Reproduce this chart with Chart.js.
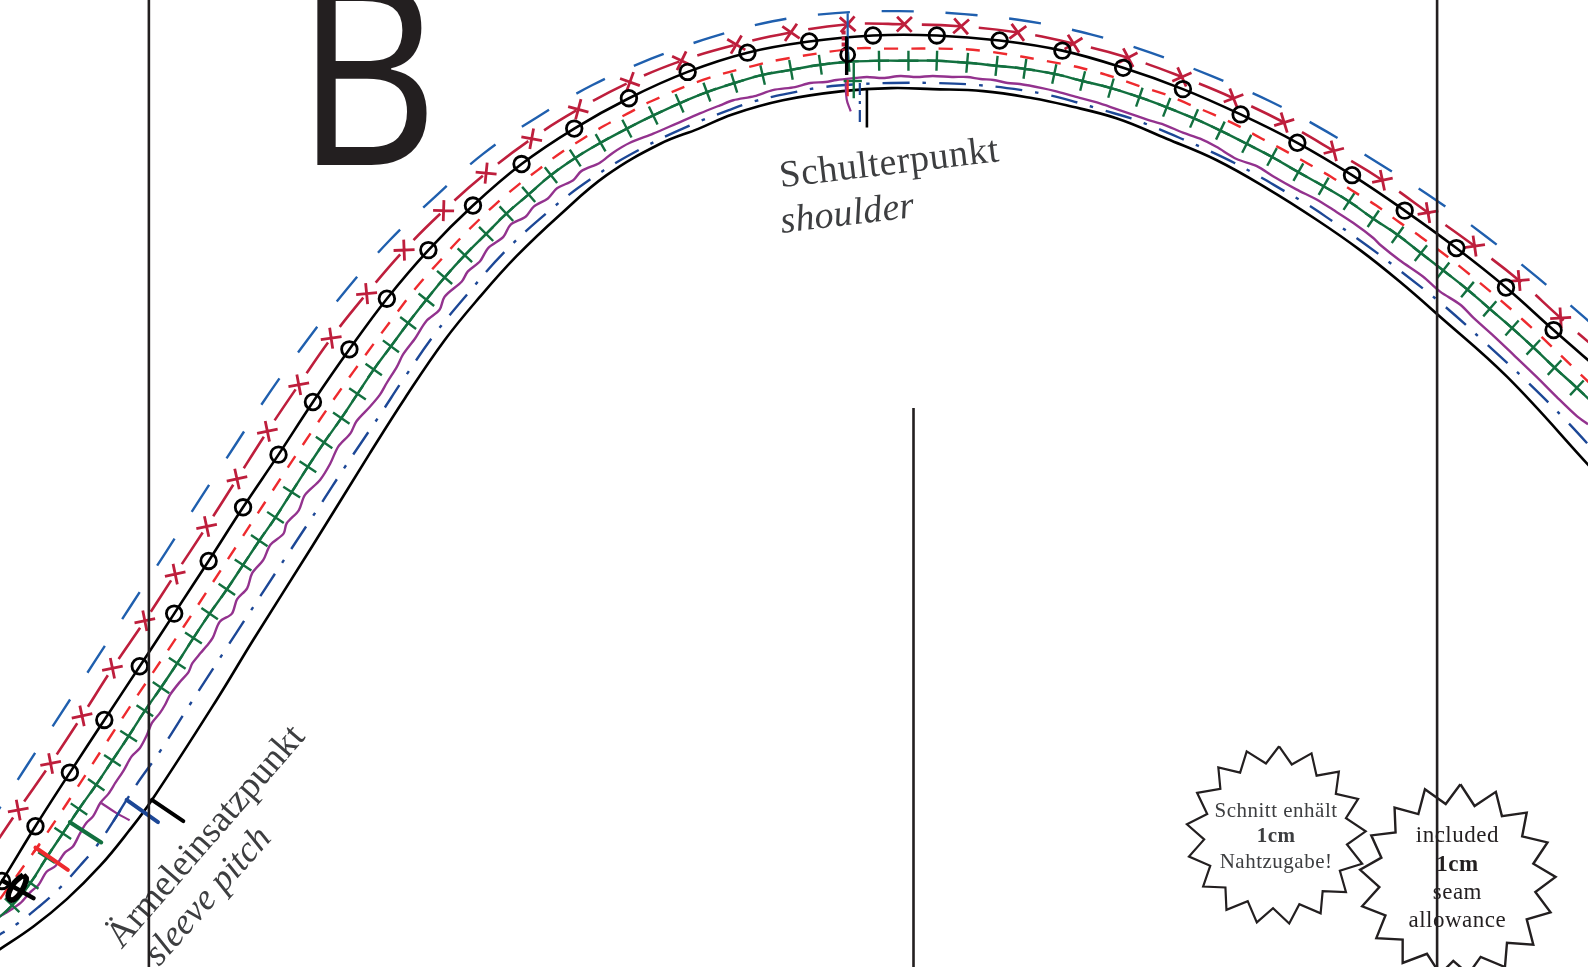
<!DOCTYPE html>
<html>
<head>
<meta charset="utf-8">
<title>Schnittmuster Armkugel</title>
<script src="https://cdn.jsdelivr.net/npm/chart.js@4"></script>
<style>
  html, body { margin: 0; padding: 0; background: #fff; overflow: hidden; }
  canvas { display: block; }
</style>
</head>
<body>
<canvas id="pattern" width="1588" height="967"></canvas>
<script>
const outerBlue = [[-8,810],[26,757],[60,705],[95,651],[130,597],[164,545],[198,492],[232,440],[266,388],[304,335],[343,285],[385,237],[430,194],[477,152],[530,116],[585,84],[643,58],[702,37],[763,21],[825,13],[888,11],[952,14],[1015,21],[1077,34],[1136,52],[1196,75],[1254,100],[1310,130],[1364,163],[1417,197],[1468,234],[1518,274],[1565,314],[1610,355]];
const crossedRed = [[-13,846],[18,800],[50,754],[81,707],[111,660],[143,613],[173,567],[204,520],[234,473],[264,426],[295,380],[327,334],[362,290],[399,247],[438,208],[480,171],[525,137],[571,108],[622,81],[673,60],[727,44],[781,32],[837,24],[893,24],[949,26],[1005,32],[1060,43],[1114,57],[1167,76],[1218,97],[1268,121],[1317,149],[1365,178],[1410,210],[1456,243],[1500,277],[1541,314],[1585,352]];
const circledBlack = [[-30,920],[2,870],[35,816],[69,763],[103,711],[138,658],[172,606],[206,554],[240,501],[275,449],[309,397],[345,345],[382,295],[423,247],[467,203],[515,162],[567,127],[621,97],[679,71],[738,52],[799,41],[862,35],[925,35],[987,40],[1049,50],[1109,67],[1168,88],[1225,113],[1281,141],[1335,173],[1387,208],[1438,245],[1487,284],[1534,326],[1580,366]];
const dashedRed = [[0,888],[51,816],[123,706],[182,618],[235,537],[263,494],[308,426],[349,367],[400,298],[416,278],[434,258],[452,238],[471,219],[490,201],[510,184],[531,168],[552,152],[574,138],[597,124],[620,112],[643,100],[694,79],[744,65],[770,59],[844,48],[874,48],[900,48],[928,48],[969,50],[1048,63],[1075,69],[1099,76],[1125,85],[1150,93],[1174,103],[1198,113],[1222,124],[1246,137],[1269,149],[1292,162],[1315,175],[1338,190],[1359,203],[1381,219],[1403,234],[1445,266],[1505,317],[1563,372],[1590,398]];
const tickedGreen = [[-8,912],[12,894],[30,872],[46,847],[62,823],[78,799],[95,775],[111,751],[127,727],[143,702],[159,679],[175,655],[191,630],[207,606],[224,582],[240,558],[256,534],[272,511],[288,486],[304,461],[320,437],[337,413],[353,389],[369,365],[386,342],[403,319],[421,296],[439,274],[459,252],[480,231],[500,211],[522,192],[544,173],[568,156],[593,141],[619,127],[645,114],[671,102],[698,91],[725,82],[753,74],[781,69],[810,64],[838,61],[868,60],[897,60],[925,60],[955,62],[984,65],[1012,68],[1041,73],[1069,80],[1097,87],[1125,96],[1152,106],[1179,117],[1205,129],[1231,142],[1256,155],[1282,170],[1307,184],[1332,199],[1356,216],[1380,232],[1403,250],[1425,267],[1449,286],[1471,305],[1493,324],[1514,343],[1535,363],[1557,383],[1580,405]];
const wavyPurple = [[0,905],[10,899],[20,892],[30,881],[38,874],[46,861],[55,855],[64,842],[72,836],[79,823],[85,813],[92,806],[99,793],[107,784],[114,773],[122,761],[130,747],[138,739],[145,726],[150,714],[158,704],[163,696],[168,686],[178,673],[186,664],[190,655],[198,645],[204,638],[210,630],[217,614],[229,606],[234,592],[244,581],[249,566],[260,553],[267,538],[280,527],[283,517],[295,504],[301,489],[316,474],[326,458],[334,441],[346,428],[352,416],[365,402],[375,390],[382,378],[392,362],[398,350],[410,334],[421,317],[434,306],[439,293],[456,278],[462,268],[474,258],[482,245],[497,234],[504,222],[519,214],[527,204],[541,196],[550,186],[566,178],[574,169],[592,161],[605,151],[622,141],[645,132],[668,122],[691,112],[711,104],[724,99],[745,95],[763,89],[785,86],[800,82],[815,81],[826,79],[845,77],[856,76],[872,77],[889,75],[905,76],[921,75],[940,76],[955,76],[968,78],[981,79],[995,82],[1007,83],[1029,87],[1042,90],[1060,95],[1086,102],[1109,110],[1132,118],[1149,123],[1168,131],[1185,137],[1201,145],[1221,157],[1241,164],[1257,174],[1280,187],[1300,197],[1316,207],[1336,220],[1356,235],[1363,242],[1382,257],[1405,273],[1422,288],[1442,301],[1455,314],[1475,332],[1494,350],[1517,372],[1537,392],[1557,411],[1568,419]];
const dashDotBlue = [[-4,925],[16,913],[39,895],[59,877],[79,855],[95,836],[112,811],[134,776],[158,742],[188,695],[234,624],[287,543],[318,496],[340,462],[375,410],[400,372],[430,329],[461,291],[498,249],[539,211],[583,177],[631,148],[681,124],[719,109],[745,100],[780,92],[813,86],[850,83],[880,82],[925,82],[966,84],[1009,89],[1036,94],[1063,101],[1090,109],[1117,117],[1143,127],[1169,138],[1194,149],[1219,161],[1243,174],[1267,188],[1291,202],[1315,218],[1338,234],[1360,250],[1382,267],[1426,302],[1467,339],[1508,377],[1548,417],[1580,452]];
const innerBlack = [[-4,940],[33,915],[66,888],[99,855],[127,821],[150,790],[214,691],[250,632],[308,540],[365,448],[400,393],[439,336],[474,293],[510,253],[553,212],[599,173],[652,142],[690,127],[723,113],[773,99],[832,90],[880,87],[921,88],[971,90],[1020,97],[1053,104],[1103,117],[1152,137],[1201,158],[1251,186],[1300,217],[1343,247],[1382,278],[1420,311],[1488,372],[1570,461]];

const guideLeft = [[147,0],[147,955]];
const guideMiddle = [[902,403],[902,955]];
const guideRight = [[1419,0],[1419,955]];

const shoulderCircle = [[837,54]];
const shoulderBlack = [[836,36],[836,74]];
const shoulderBlackInner = [[856,89],[856,126]];
const shoulderBlue = [[837,13],[837,59]];
const shoulderCrimson = [[833,30],[833,50]];
const shoulderRed = [[837,79],[837,95]];
const shoulderGreen = [[843,62],[843,97]];
const shoulderGreenBar = [[833,80],[851,80]];
const shoulderPurple = [[835,79],[836,98],[840,110]];
const shoulderDashDot = [[849,82],[849,122]];

const pitchBlack = [[150,790],[181,811]];
const pitchBlue = [[125,790],[156,812]];
const pitchBlueHook = [[125,790],[112,811]];
const pitchPurple = [[100,793],[115,803],[128,810]];
const pitchGreen = [[69,812],[100,832]];
const pitchRed = [[35,837],[67,859]];
const pitchRedHook = [[39,834],[33,842]];
const frontBar = [[3,870],[33,887]];
const frontLoop = [[23,864],[26,868],[20,882],[12,889],[8,885],[14,872],[23,864]];

const starLeft = [[1263,737],[1275.5,755],[1295,744],[1300,766],[1322,762],[1319,784],[1341,789],[1329,808],[1348.5,821],[1330,834],[1345,853],[1323,860],[1329,881],[1306,880],[1304,902],[1283,893],[1273,912],[1257,897],[1241,911],[1232,890],[1211,898.5],[1210,876.5],[1188,875.5],[1195,855],[1174,846],[1189,829],[1172,814],[1192,804],[1182,783],[1205,779],[1203,758],[1224.5,763],[1231,742],[1250,754],[1263,737]];
const starRight = [[1442,774.5],[1456,796],[1477,782],[1483,806],[1507.5,802.5],[1503,826],[1528,832],[1514,853],[1536,866],[1516,881],[1531,901],[1507.5,908],[1514,933],[1488,931],[1486,955],[1462,945],[1450,962],[1435,949],[1422,962],[1409,942],[1385,951],[1385,928],[1359,926.5],[1368,904],[1345,895],[1362,876],[1343,859],[1364,847],[1354,825],[1378,822],[1377,797.5],[1400.5,804],[1407,779.5],[1427.5,794],[1442,774.5]];

const letter = 'B';
const shoulderLabels = ['Schulterpunkt', 'shoulder'];
const pitchLabels = ['Ärmeleinsatzpunkt', 'sleeve pitch'];
const germanNote = ['Schnitt enhält', '1cm', 'Nahtzugabe!'];
const englishNote = ['included', '1cm', 'seam', 'allowance'];

const INK = '#231f20';
const LABEL = '#3d3e40';
const serif = '"Liberation Serif", serif';

function pts(list) {
  return list.map(function (p) { return { x: p[0], y: p[1] }; });
}

function line(list, color, width, extra) {
  return Object.assign({
    data: pts(list),
    showLine: true,
    borderColor: color,
    borderWidth: width,
    pointRadius: 0,
    fill: false,
    tension: 0,
    borderCapStyle: 'butt',
    borderJoinStyle: 'miter'
  }, extra || {});
}

// ticks and crosses follow the direction of the seam
function alongSeam(ctx) {
  const d = ctx.dataset.data;
  const a = d[Math.max(ctx.dataIndex - 1, 0)];
  const b = d[Math.min(ctx.dataIndex + 1, d.length - 1)];
  return Math.atan2(b.y - a.y, b.x - a.x) * 180 / Math.PI;
}

const textPlugin = {
  id: 'sheetText',
  beforeDatasetsDraw: function (chart) {
    const c = chart.ctx;
    const sx = chart.scales.x, sy = chart.scales.y;
    function put(text, x, y, font, color, angle, align, spacing, widen) {
      c.save();
      c.translate(sx.getPixelForValue(x), sy.getPixelForValue(y));
      c.rotate((angle || 0) * Math.PI / 180);
      c.scale(widen || 1, 1);
      c.font = font;
      c.fillStyle = color;
      c.textAlign = align || 'left';
      c.textBaseline = 'alphabetic';
      c.letterSpacing = spacing || '0px';
      c.fillText(text, 0, 0);
      c.restore();
    }
    put(letter, 292, 163, '500 254px "Open Sans", sans-serif', INK, 0, 'left', '0px', 0.87);
    put(shoulderLabels[0], 771, 185, '38px ' + serif, LABEL, -6.8, 'left', '0.6px');
    put(shoulderLabels[1], 772, 230, 'italic 38px ' + serif, LABEL, -6.8, 'left', '0.2px');
    put(pitchLabels[0], 120, 938, '37px ' + serif, LABEL, -49, 'left', '0px');
    put(pitchLabels[1], 157, 955, 'italic 36.5px ' + serif, LABEL, -48.5, 'left', '0px');
    germanNote.forEach(function (t, i) {
      put(t, 1260, 807 + i * 25, (i === 1 ? 'bold ' : '') + '21px ' + serif, LABEL, 0, 'center', '0.5px');
    });
    englishNote.forEach(function (t, i) {
      put(t, 1439, 832 + i * 27.7, (i === 1 ? 'bold ' : '') + '23px ' + serif, INK, 0, 'center', '0.5px');
    });
  }
};

new Chart(document.getElementById('pattern').getContext('2d'), {
  type: 'scatter',
  data: {
    datasets: [
      line(guideLeft, INK, 2.6),
      line(guideMiddle, INK, 2.6),
      line(guideRight, INK, 2.6),

      line(frontBar, '#000', 4.5, { borderCapStyle: 'round' }),
      line(frontLoop, '#000', 5.5, { tension: 0.4 }),
      line(pitchBlack, '#000', 4, { borderCapStyle: 'round' }),
      line(pitchBlue, '#1c4796', 4, { borderCapStyle: 'round' }),
      line(pitchBlueHook, '#1c4796', 2.4),
      line(pitchPurple, '#93328e', 2.2, { tension: 0.4 }),
      line(pitchGreen, '#12703f', 4, { borderCapStyle: 'round' }),
      line(pitchRed, '#ee2a2e', 4, { borderCapStyle: 'round' }),
      line(pitchRedHook, '#ee2a2e', 2.5),

      line(shoulderBlack, '#000', 3.4),
      line(shoulderBlackInner, '#000', 2.6),
      line(shoulderBlue, '#1f5fae', 2.2),
      line(shoulderCrimson, '#be1e3c', 4, { borderDash: [4, 2] }),
      line(shoulderRed, '#ee2a2e', 2.2),
      line(shoulderGreen, '#12703f', 2.4),
      line(shoulderGreenBar, '#12703f', 2.4),
      line(shoulderPurple, '#93328e', 2.2, { tension: 0.4 }),
      line(shoulderDashDot, '#1c4796', 2.2, { borderDash: [12, 6, 3, 6] }),
      line(shoulderCircle, '#000', 2, {
        showLine: false, pointStyle: 'circle', pointRadius: 7,
        pointBorderColor: '#000', pointBorderWidth: 2.8, pointBackgroundColor: 'rgba(0,0,0,0)'
      }),

      line(circledBlack, '#000', 2.6, {
        tension: 0.4, pointStyle: 'circle', pointRadius: 7.8,
        pointBorderColor: '#000', pointBorderWidth: 2.8, pointBackgroundColor: 'rgba(0,0,0,0)'
      }),
      line(crossedRed, '#be1e3c', 2.6, {
        tension: 0.4, borderDash: [38, 19], borderDashOffset: 47.5,
        pointStyle: 'crossRot', pointRadius: 10.5, pointRotation: alongSeam,
        pointBorderColor: '#be1e3c', pointBorderWidth: 2.8
      }),
      line(outerBlue, '#1f5fae', 2.4, { tension: 0.4, borderDash: [32, 31.9], borderDashOffset: 16 }),
      line(dashedRed, '#ee2a2e', 2.4, { tension: 0.4, borderDash: [14, 13.3] }),
      line(tickedGreen, '#12703f', 2.4, {
        tension: 0.4, pointStyle: 'cross', pointRadius: 10, pointRotation: alongSeam,
        pointBorderColor: '#12703f', pointBorderWidth: 2.4
      }),
      line(wavyPurple, '#93328e', 2.4, { tension: 0.3 }),
      line(dashDotBlue, '#1c4796', 2.4, { tension: 0.4, borderDash: [27, 13, 3.5, 13], borderDashOffset: 17 }),
      line(innerBlack, '#000', 2.6, { tension: 0.4 }),

      line(starLeft, INK, 2.2),
      line(starRight, INK, 2.4)
    ]
  },
  options: {
    responsive: false,
    animation: false,
    events: [],
    layout: { padding: 0, autoPadding: false },
    plugins: { legend: { display: false }, tooltip: { enabled: false } },
    scales: {
      x: { type: 'linear', display: false, min: 0, max: 1568 },
      y: { type: 'linear', display: false, reverse: true, min: 0, max: 955 }
    }
  },
  plugins: [textPlugin]
});
</script>
</body>
</html>
